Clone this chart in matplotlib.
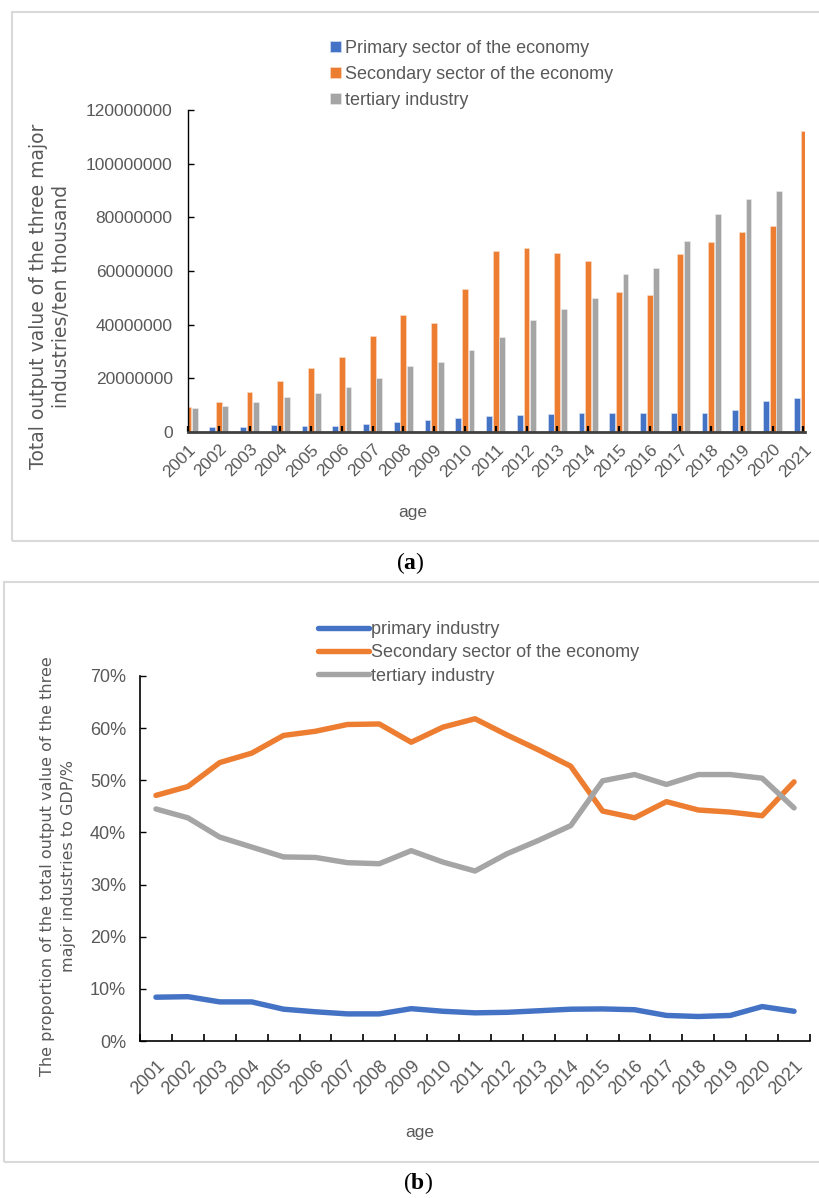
import matplotlib
matplotlib.use("Agg")
import matplotlib.pyplot as plt
import numpy as np
from matplotlib.patches import Rectangle
from matplotlib.ticker import FuncFormatter, FixedLocator

# -----------------------------
# Data
# -----------------------------
years = [str(y) for y in range(2001, 2022)]

# (a) total output value, ten thousand yuan
primary_value = [1.7e6, 1.75e6, 2.0e6, 2.5e6, 2.4e6, 2.4e6, 3.0e6, 3.6e6, 4.3e6, 5.1e6, 5.8e6,
                 6.3e6, 6.8e6, 7.2e6, 7.1e6, 7.1e6, 7.1e6, 7.2e6, 8.2e6, 11.5e6, 12.8e6]
secondary_value = [9.5e6, 11.2e6, 15.0e6, 19.1e6, 23.8e6, 27.9e6, 35.9e6, 43.7e6, 40.8e6, 53.4e6, 67.5e6,
                   68.5e6, 66.8e6, 63.8e6, 52.1e6, 51.1e6, 66.4e6, 70.7e6, 74.6e6, 76.9e6, 112.2e6]
tertiary_value = [8.9e6, 9.8e6, 11.0e6, 12.9e6, 14.4e6, 16.6e6, 20.2e6, 24.5e6, 26.0e6, 30.4e6, 35.5e6,
                  41.8e6, 45.9e6, 49.8e6, 58.9e6, 61.0e6, 71.2e6, 81.4e6, 86.7e6, 89.7e6, 101.5e6]

# (b) share of GDP, %
primary_share = [8.4, 8.5, 7.5, 7.5, 6.1, 5.6, 5.2, 5.2, 6.2, 5.7, 5.4,
                 5.5, 5.8, 6.1, 6.15, 6.0, 4.9, 4.7, 4.9, 6.6, 5.7]
secondary_share = [47.1, 48.8, 53.4, 55.2, 58.6, 59.4, 60.7, 60.8, 57.3, 60.2, 61.8,
                   58.7, 55.8, 52.7, 44.1, 42.8, 45.9, 44.3, 43.9, 43.2, 49.7]
tertiary_share = [44.5, 42.8, 39.1, 37.2, 35.3, 35.2, 34.2, 34.0, 36.5, 34.3, 32.6,
                  35.9, 38.5, 41.3, 49.9, 51.1, 49.2, 51.1, 51.1, 50.4, 44.7]

labels_a = ["Primary sector of the economy", "Secondary sector of the economy", "tertiary industry"]
labels_b = ["primary industry", "Secondary sector of the economy", "tertiary industry"]

# -----------------------------
# Style
# -----------------------------
BLUE = "#4472C4"
ORANGE = "#ED7D31"
GRAY = "#A5A5A5"
TXT = "#595959"
SANS = ["Liberation Sans", "DejaVu Sans"]
NARROW = ["Liberation Sans Narrow", "Liberation Sans", "DejaVu Sans"]

plt.rcParams["mathtext.fontset"] = "custom"
plt.rcParams["mathtext.rm"] = "Liberation Serif"
plt.rcParams["mathtext.bf"] = "Liberation Serif:bold"

W, H = 820, 1198
fig = plt.figure(figsize=(W / 100, H / 100), dpi=100)


def rect(l, t, r, b):
    return [l / W, 1 - b / H, (r - l) / W, (b - t) / H]


def frame(l, t, r, b):
    fig.patches.append(Rectangle((l / W, 1 - b / H), (r - l) / W, (b - t) / H,
                                 transform=fig.transFigure, fill=False,
                                 edgecolor="#d9d9d9", lw=1.5))


# -----------------------------
# (a) bars
# -----------------------------
frame(12, 12, 823, 541)
ax1 = fig.add_axes(rect(188, 110, 805, 432))
x = np.arange(len(years))
bw = 0.19
ax1.bar(x - 0.215, primary_value, bw, color=BLUE, edgecolor="#dfe7f5", lw=0.4, label=labels_a[0])
ax1.bar(x, secondary_value, bw, color=ORANGE, edgecolor="#fbe0cf", lw=0.4, label=labels_a[1])
ax1.bar(x + 0.215, tertiary_value, bw, color=GRAY, edgecolor="#eeeeee", lw=0.4, label=labels_a[2])
ax1.set_xlim(0, 20.05)
ax1.set_ylim(0, 120000000)
ax1.set_yticks(np.arange(0, 120000001, 20000000))
ax1.yaxis.set_major_formatter(FuncFormatter(lambda v, p: f"{int(v)}"))
ax1.set_xticks(x)
ax1.set_xticklabels(years, rotation=45, ha="right", rotation_mode="anchor")
for s in ("top", "right"):
    ax1.spines[s].set_visible(False)
ax1.spines["left"].set_color("black")
ax1.spines["left"].set_linewidth(1.0)
ax1.spines["bottom"].set_color("#404040")
ax1.spines["bottom"].set_linewidth(2.0)
ax1.tick_params(axis="y", direction="in", length=4, width=1, colors="black",
                labelcolor=TXT, labelsize=12.5, pad=11)
ax1.tick_params(axis="x", direction="in", length=4, width=1.6, colors="black",
                labelcolor=TXT, labelsize=12.5, pad=7)
for t in ax1.get_xticklabels() + ax1.get_yticklabels():
    t.set_family(SANS)
fig.text(413 / W, 1 - 512 / H, "age", ha="center", va="center", color=TXT, fontsize=12.5, family=SANS)
fig.text(50 / W, 1 - 296 / H, "Total output value of the three major\nindustries/ten thousand",
         rotation=90, ha="center", va="center", multialignment="center", color=TXT,
         fontsize=13.5, family="DejaVu Sans", linespacing=1.3)
leg1 = ax1.legend(loc="upper left", bbox_to_anchor=(330 / W, 1 - 40 / H), bbox_transform=fig.transFigure,
                  frameon=False, fontsize=13, handlelength=0.6, handleheight=0.6,
                  handletextpad=0.25, labelspacing=0.5, borderpad=0, borderaxespad=0)
for t in leg1.get_texts():
    t.set_color(TXT)
    t.set_family(SANS)
fig.text(410 / W, 1 - 563 / H, r"($\mathbf{a}$)", ha="center", va="center", fontsize=17,
         family="Liberation Serif", color="black")

# -----------------------------
# (b) lines
# -----------------------------
frame(4, 582, 823, 1162)
ax2 = fig.add_axes(rect(140, 676, 810, 1041))
lw = 3.9
ax2.plot(x, primary_share, color=BLUE, lw=lw, solid_capstyle="round", solid_joinstyle="round", label=labels_b[0])
ax2.plot(x, secondary_share, color=ORANGE, lw=lw, solid_capstyle="round", solid_joinstyle="round", label=labels_b[1])
ax2.plot(x, tertiary_share, color=GRAY, lw=lw, solid_capstyle="round", solid_joinstyle="round", label=labels_b[2])
ax2.set_xlim(-0.5, 20.5)
ax2.set_ylim(0, 70)
ax2.set_yticks(np.arange(0, 71, 10))
ax2.yaxis.set_major_formatter(FuncFormatter(lambda v, p: f"{int(v)}%"))
ax2.set_xticks(x)
ax2.set_xticklabels(years, rotation=45, ha="right", rotation_mode="anchor")
ax2.xaxis.set_minor_locator(FixedLocator(np.arange(-0.5, 20.6, 1)))
for s in ("top", "right"):
    ax2.spines[s].set_visible(False)
ax2.spines["left"].set_linewidth(1.2)
ax2.spines["bottom"].set_linewidth(1.2)
ax2.tick_params(axis="y", direction="in", length=4, width=1, labelcolor=TXT, labelsize=13, pad=10)
ax2.tick_params(axis="x", which="major", length=0, labelcolor=TXT, labelsize=13, pad=12)
ax2.tick_params(axis="x", which="minor", direction="in", length=5, width=1.2)
for t in ax2.get_xticklabels() + ax2.get_yticklabels():
    t.set_family(NARROW)
fig.text(420 / W, 1 - 1133 / H, "age", ha="center", va="center", color=TXT, fontsize=12.5, family=SANS)
fig.text(58 / W, 1 - 866 / H, "The proportion of the total output value of the three\nmajor industries to GDP/%",
         rotation=90, ha="center", va="center", multialignment="center", color=TXT,
         fontsize=11.5, family="DejaVu Sans", linespacing=1.55)
leg2 = ax2.legend(loc="upper left", bbox_to_anchor=(318 / W, 1 - 621 / H), bbox_transform=fig.transFigure,
                  frameon=False, fontsize=13, handlelength=2.8, handletextpad=0.15,
                  labelspacing=0.35, borderpad=0, borderaxespad=0)
for t in leg2.get_texts():
    t.set_color(TXT)
    t.set_family(SANS)
fig.text(418 / W, 1 - 1183 / H, r"($\mathbf{b}$)", ha="center", va="center", fontsize=17,
         family="Liberation Serif", color="black")

fig.savefig("out.png", dpi=100)
